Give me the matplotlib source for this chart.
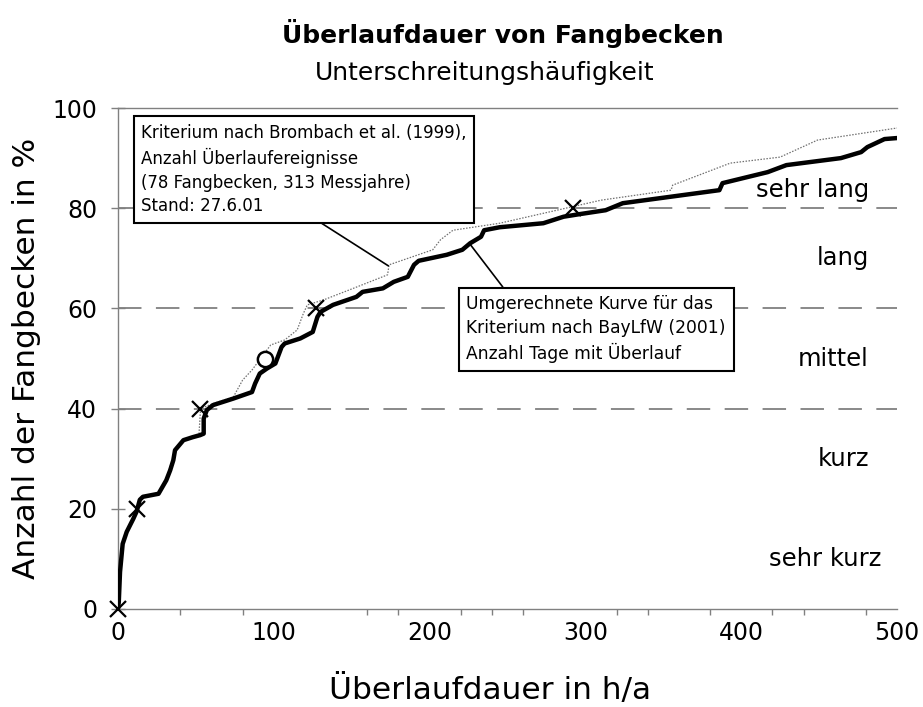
import matplotlib
matplotlib.use("Agg")
import matplotlib.pyplot as plt

plt.rcParams['font.family'] = ['DejaVu Sans']

# --- data -------------------------------------------------------------
thick_x = [0, 0.5, 1.3, 3, 5.6, 9.8, 12, 14, 16, 26, 31, 33.5, 35.5, 36.6, 42, 48, 52.7,
           55, 55, 57, 61, 74, 86, 88, 91, 95.6, 101, 105, 107, 117, 125, 128, 130, 138,
           153, 157, 170, 177, 186, 190, 193, 211, 221, 226, 233, 235, 245, 273, 286, 296,
           313, 324, 386, 388, 417, 429, 464, 477, 481, 492, 500]
thick_y = [0, 1.4, 7.4, 13, 15.4, 18, 19.5, 21.8, 22.4, 23, 25.7, 27.7, 29.7, 31.7, 33.7,
           34.3, 34.7, 35, 38, 39.7, 40.7, 42, 43.3, 45, 47, 48, 49, 52.3, 53, 54, 55.3,
           58.3, 59.3, 60.7, 62.3, 63.3, 64, 65.3, 66.3, 68.7, 69.5, 70.7, 71.7, 73, 74.3,
           75.6, 76.2, 77, 78.3, 78.8, 79.6, 81, 83.6, 85, 87.2, 88.6, 90, 91.2, 92.2, 93.8, 94]

thin_x = [0, 0.5, 1.3, 3, 5.6, 9.8, 12, 14, 16, 26, 31, 33.5, 35.5, 36.6, 42, 48, 52, 53,
          57, 61, 74, 80, 86, 98, 107, 115, 119, 121.5, 132, 151, 173, 174, 202, 207, 215,
          245, 310, 355, 356, 393, 425, 449, 500]
thin_y = [0, 1.4, 7.4, 13, 15.4, 18, 20, 21.8, 22.4, 23, 25.7, 28.5, 30, 32, 33.7, 34.5,
          35, 40, 40.5, 41, 42.3, 45.7, 47.7, 52.7, 53.7, 55.7, 59, 60.7, 61.7, 64, 66.7,
          68.7, 71.7, 73.7, 75.6, 77, 81.6, 83.6, 84.6, 89, 90.2, 93.6, 96]

cross_x = [0, 12, 52.7, 127, 292]
cross_y = [0, 20, 40, 60, 80]
circle_x = [94.5]
circle_y = [50]

class_limits = [40, 60, 80]
class_labels = ["sehr lang", "lang", "mittel", "kurz", "sehr kurz"]
class_label_x = [482, 482, 482, 482, 490]
class_label_y = [83.6, 70, 50, 30, 10]

x_ticks = [0, 100, 200, 300, 400, 500]
y_ticks = [0, 20, 40, 60, 80, 100]
x_tick_marks = [40, 80, 100, 160, 180, 220, 240, 260, 300, 320, 340, 380, 420, 440, 480]

title = "Überlaufdauer von Fangbecken"
subtitle = "Unterschreitungshäufigkeit"
xlabel = "Überlaufdauer in h/a"
ylabel = "Anzahl der Fangbecken in %"
box1 = ("Kriterium nach Brombach et al. (1999),\nAnzahl Überlaufereignisse\n"
        "(78 Fangbecken, 313 Messjahre)\nStand: 27.6.01")
box2 = "Umgerechnete Kurve für das\nKriterium nach BayLfW (2001)\nAnzahl Tage mit Überlauf"

# --- figure -----------------------------------------------------------
fig = plt.figure(figsize=(9.23, 7.07), dpi=100)
ax = fig.add_axes([118/923, 98/707, (897-118)/923, (609-108)/707])
ax.set_xlim(0, 500)
ax.set_ylim(0, 100)

gray = '#808080'
for y in class_limits:
    ax.axhline(y, color=gray, lw=1.3, ls=(0, (13, 8)), zorder=1)

ax.plot(thin_x, thin_y, color='#707070', lw=0.9, ls=(0, (1.2, 1.2)), zorder=2)
ax.plot(thick_x, thick_y, color='black', lw=3.2, solid_joinstyle='round', zorder=3)
ax.plot(cross_x, cross_y, ls='none', marker='x', ms=11, mew=1.6, color='black',
        zorder=4, clip_on=False)
ax.plot(circle_x, circle_y, ls='none', marker='o', ms=11, mew=1.8, mfc='white',
        mec='black', zorder=4)

for lab, xx, yy in zip(class_labels, class_label_x, class_label_y):
    ax.text(xx, yy, lab, ha='right', va='center', fontsize=17.5, zorder=5)

bb = dict(boxstyle='square,pad=0.45', fc='white', ec='black', lw=1.5)
ax.annotate(box1, xy=(173.5, 68.5), xytext=(14.8, 96.9), textcoords='data',
            ha='left', va='top', fontsize=12, linespacing=1.4, bbox=bb, zorder=6,
            arrowprops=dict(arrowstyle='-', color='black', lw=1.2, shrinkA=0, shrinkB=0,
                            relpos=(0.516, 0.0)))
ax.annotate(box2, xy=(226, 72.8), xytext=(223.6, 62.6), textcoords='data',
            ha='left', va='top', fontsize=12.3, linespacing=1.4, bbox=bb, zorder=6,
            arrowprops=dict(arrowstyle='-', color='black', lw=1.2, shrinkA=0, shrinkB=0,
                            relpos=(0.165, 1.0)))

ax.set_xticks(x_ticks)
ax.set_yticks(y_ticks)
ax.set_xticks(x_tick_marks, minor=True)
ax.tick_params(axis='x', which='major', length=0, pad=9, labelsize=17)
ax.tick_params(axis='x', which='minor', length=4, width=1, color=gray, direction='out')
ax.tick_params(axis='y', which='major', length=10, width=1, color=gray, direction='inout',
               pad=10, labelsize=17)
for s in ['left', 'bottom', 'top']:
    ax.spines[s].set_color(gray)
    ax.spines[s].set_linewidth(1)
ax.spines['right'].set_visible(False)

ax.set_xlabel(xlabel, fontsize=22.5)
ax.set_ylabel(ylabel, fontsize=22.5, labelpad=8)
ax.xaxis.set_label_coords((490 - 118) / 779, -(690 - 609) / 501, transform=ax.transAxes)
ax.xaxis.label.set_va('center')

fig.text(503/923, 1 - 33/707, title, ha='center', va='center', fontsize=18,
         fontweight='bold')
fig.text(485/923, 1 - 73/707, subtitle, ha='center', va='center', fontsize=18)

fig.savefig('out.png', dpi=100)
